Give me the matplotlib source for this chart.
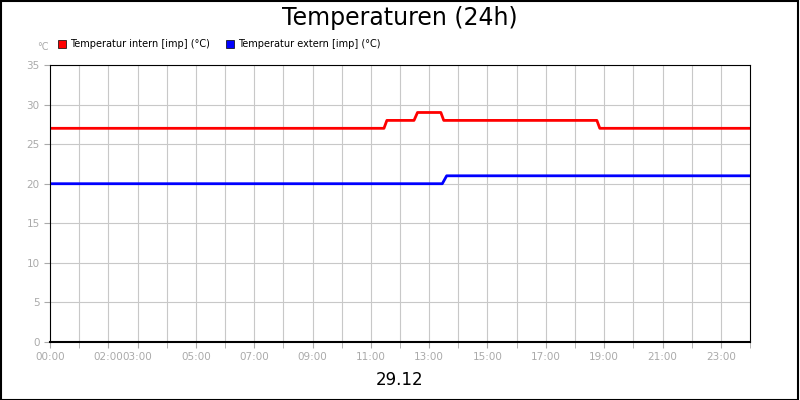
import matplotlib
matplotlib.use("Agg")
import matplotlib.pyplot as plt
from matplotlib.patches import Rectangle

intern_h = [0, 11.45, 11.55, 12.48, 12.6, 13.4, 13.5, 18.75, 18.85, 24]
intern_v = [27, 27, 28, 28, 29, 29, 28, 28, 27, 27]
extern_h = [0, 13.45, 13.6, 24]
extern_v = [20, 20, 21, 21]
tick_hours = [0, 2, 3, 5, 7, 9, 11, 13, 15, 17, 19, 21, 23]
tick_labels = ["00:00", "02:00", "03:00", "05:00", "07:00", "09:00", "11:00", "13:00", "15:00", "17:00", "19:00", "21:00", "23:00"]

fig = plt.figure(figsize=(8, 4), dpi=100)
fig.patches.append(Rectangle((0.001, 0.001), 0.997, 0.997, transform=fig.transFigure, fill=False, ec="black", lw=1.5))
ax = fig.add_axes([50/800, 58/400, 700/800, 277/400])
for h in range(1, 24):
    ax.axvline(h, color="#c8c8c8", lw=0.8, zorder=0)
ax.plot(intern_h, intern_v, color="#ff0000", lw=2)
ax.plot(extern_h, extern_v, color="#0000ff", lw=2)
ax.set_xlim(0, 24)
ax.set_ylim(0, 35)
ax.set_xticks(tick_hours)
ax.set_xticklabels(tick_labels)
ax.set_xticks(range(25), minor=True)
ax.tick_params(axis="x", which="both", length=4, color="#aaaaaa", labelsize=7.5, labelcolor="#aaaaaa", pad=3)
ax.set_yticks(range(0, 36, 5))
ax.tick_params(axis="y", labelsize=7.5, labelcolor="#aaaaaa", color="#aaaaaa", length=4)
ax.grid(True, axis="y", color="#c8c8c8", lw=0.8)
ax.set_axisbelow(True)
for s in ax.spines.values():
    s.set_color("black")
ax.spines["bottom"].set_linewidth(1.5)
fig.text(0.5, 0.955, "Temperaturen (24h)", ha="center", va="center", fontsize=17)
fig.text(0.5, 0.05, "29.12", ha="center", va="center", fontsize=12)
fig.text(37/800, 1-47/400, "°C", fontsize=7, color="#aaaaaa", va="center")
fig.patches.append(Rectangle((58/800, 1-48/400), 8/800, 8/400, transform=fig.transFigure, fc="#ff0000", ec="black", lw=0.5))
fig.text(70/800, 1-44/400, "Temperatur intern [imp] (°C)", fontsize=7, va="center")
fig.patches.append(Rectangle((226/800, 1-48/400), 8/800, 8/400, transform=fig.transFigure, fc="#0000ff", ec="black", lw=0.5))
fig.text(238/800, 1-44/400, "Temperatur extern [imp] (°C)", fontsize=7, va="center")
fig.savefig("out.png", dpi=100)
